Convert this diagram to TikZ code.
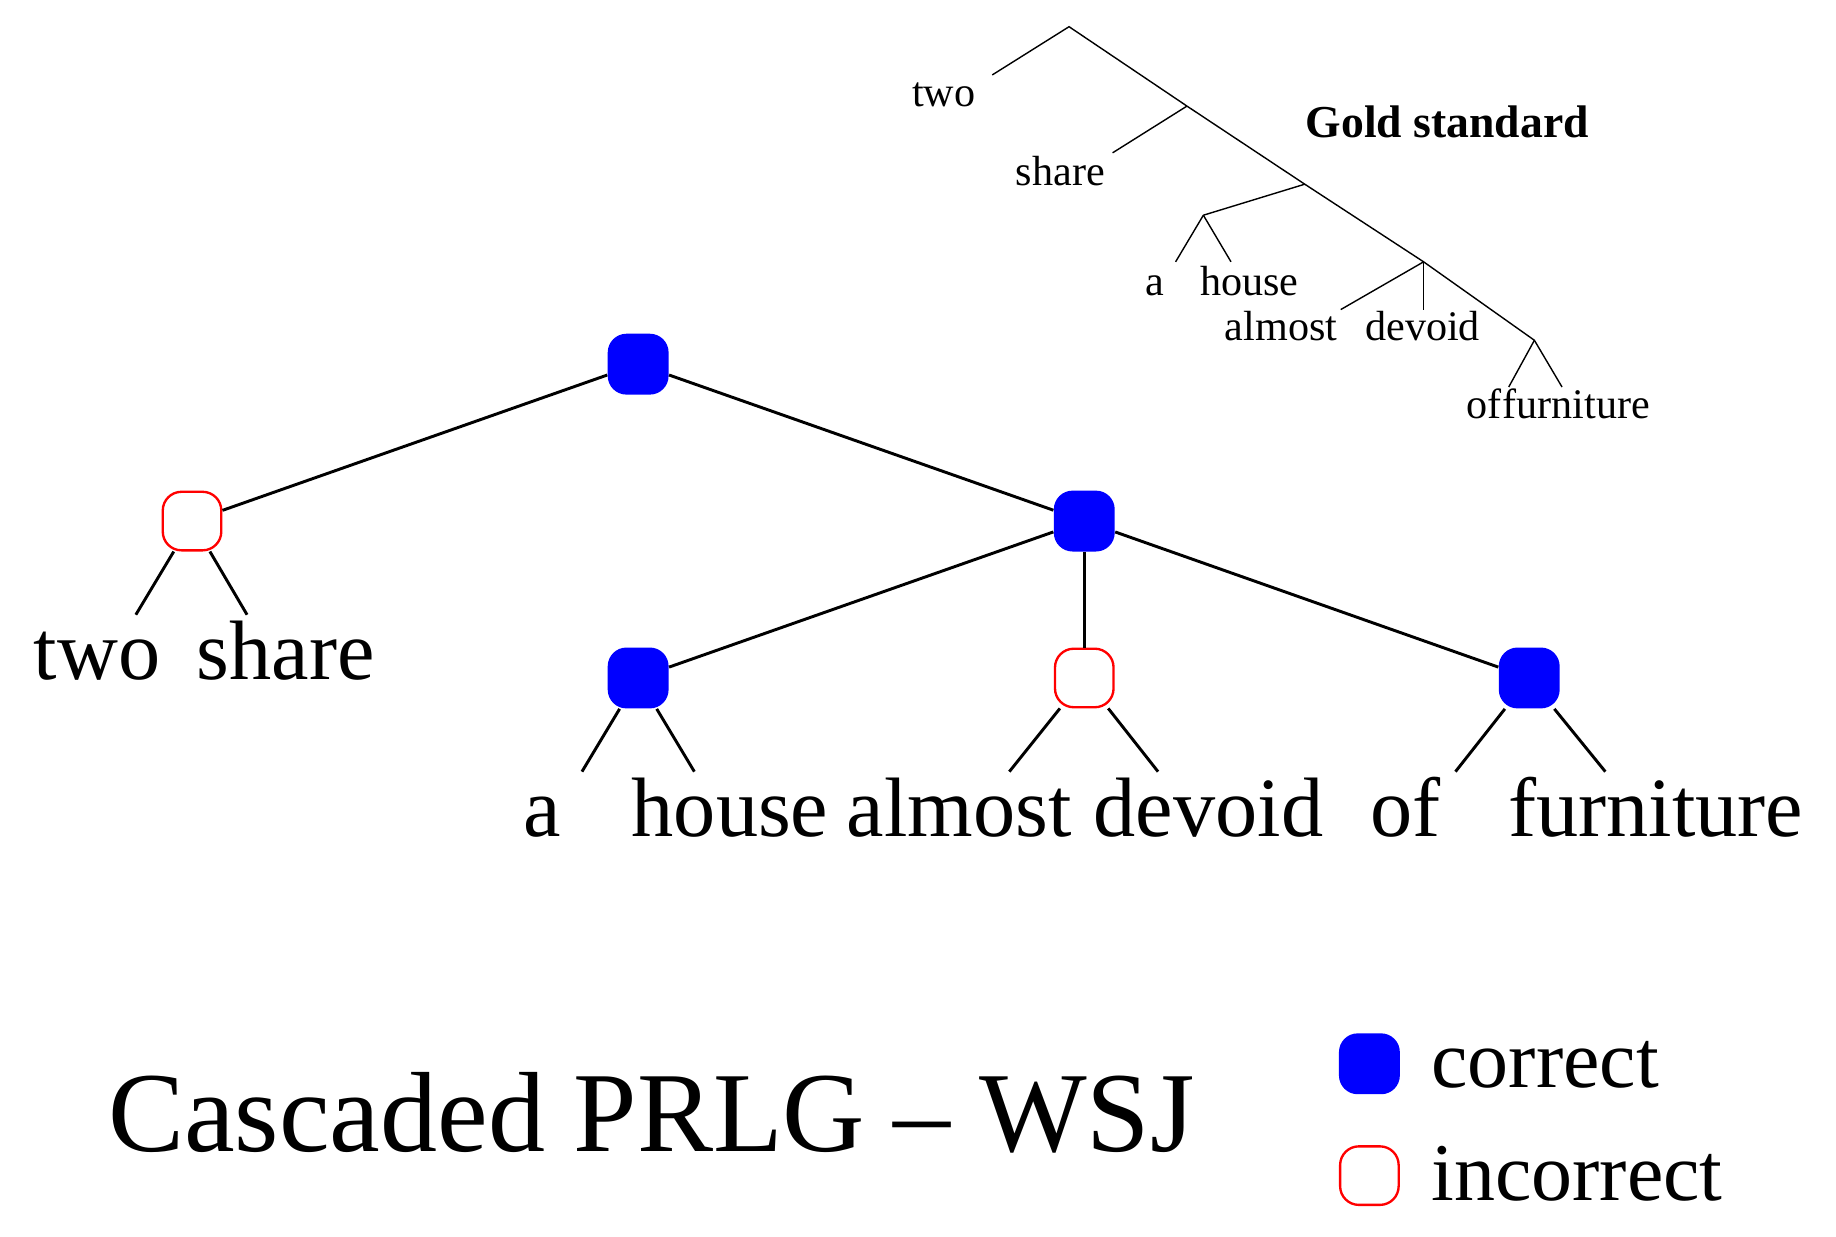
\documentclass[tikz,border=0pt]{standalone}
\usepackage{fontspec}
\setmainfont{Liberation Serif}
\begin{document}
\begin{tikzpicture}[x=0.5pt,y=-0.5pt,
  ok/.style={rectangle,rounded corners=8pt,minimum width=26pt,minimum height=26pt,inner sep=0pt,fill=blue},
  bad/.style={rectangle,rounded corners=8pt,minimum width=25pt,minimum height=25pt,inner sep=0pt,draw=red,line width=1pt,fill=white},
  edge/.style={line width=1.25pt},
  gedge/.style={line width=0.6pt},
  big/.style={anchor=base,inner sep=0pt,font=\fontsize{36}{40}\selectfont},
  small/.style={anchor=base,inner sep=0pt,font=\fontsize{18}{20}\selectfont},
  legtext/.style={anchor=base west,inner sep=0pt,font=\fontsize{35}{40}\selectfont},
]
\useasboundingbox (0,0) rectangle (1568,1055.6);

% main tree
\node[ok]  (r) at (545,311) {};
\node[bad] (a) at (164,445) {};
\node[ok]  (b) at (926,445) {};
\node[ok]  (c) at (545,579) {};
\node[bad] (d) at (926,579) {};
\node[ok]  (e) at (1306,579) {};
\draw[edge] (r) -- (a);
\draw[edge] (r) -- (b);
\draw[edge] (b) -- (c);
\draw[edge] (b) -- (d);
\draw[edge] (b) -- (e);

\coordinate (a1) at (116,525);
\coordinate (a2) at (211,525);
\coordinate (c1) at (497,659);
\coordinate (c2) at (593,659);
\coordinate (d1) at (862,659);
\coordinate (d2) at (989,659);
\coordinate (e1) at (1243,659);
\coordinate (e2) at (1371,659);
\draw[edge] (a) -- (a1);
\draw[edge] (a) -- (a2);
\draw[edge] (c) -- (c1);
\draw[edge] (c) -- (c2);
\draw[edge] (d) -- (d1);
\draw[edge] (d) -- (d2);
\draw[edge] (e) -- (e1);
\draw[edge] (e) -- (e2);

\node[big] (w1) at (83,580) {two};
\node[big] (w2) at (244,580) {share};
\node[big] (w3) at (463,714) {a};
\node[big] (w4) at (623.5,714) {house};
\node[big] (w5) at (819,714) {almost};
\node[big] (w6) at (1032,714) {devoid};
\node[big] (w7) at (1200,714) {of};
\node[big] (w8) at (1414,714) {furniture};

% gold standard tree
\coordinate (g0) at (913,22.8);
\coordinate (g1) at (1013.7,90.6);
\coordinate (g2) at (1114.3,157.3);
\coordinate (g3) at (1215.8,223.6);
\coordinate (g4) at (1310.4,290.6);
\coordinate (gh) at (1027.7,183.8);
\coordinate (t1) at (847.4,64);
\coordinate (t2) at (950.2,130.5);
\coordinate (t3) at (1004,223.6);
\coordinate (t4) at (1051.3,223.6);
\coordinate (t5) at (1145,264.4);
\coordinate (t6) at (1215.8,264.4);
\coordinate (t7) at (1288.5,330.5);
\coordinate (t8) at (1334,330.5);
\draw[gedge] (t1) -- (g0) -- (g1) -- (g2) -- (g3) -- (g4);
\draw[gedge] (g1) -- (t2);
\draw[gedge] (g2) -- (gh);
\draw[gedge] (gh) -- (t3);
\draw[gedge] (gh) -- (t4);
\draw[gedge] (g3) -- (t5);
\draw[gedge] (g3) -- (t6);
\draw[gedge] (g4) -- (t7);
\draw[gedge] (g4) -- (t8);

\node[small] (s1) at (806,90.6) {two};
\node[small] (s2) at (905.5,158) {share};
\node[small] (s3) at (986,252) {a};
\node[small] (s4) at (1067,252) {house};
\node[small] (s5) at (1094,291) {almost};
\node[small] (s6) at (1215,291) {devoid};
\node[small] (s7) at (1267.5,357.5) {of};
\node[small] (s8) at (1346,357.5) {furniture};
\node[anchor=base,inner sep=0pt,font=\fontsize{19.5}{22}\selectfont\bfseries] (gold) at (1236,117.4) {Gold standard};

% title and legend
\node[anchor=base west,inner sep=0pt,font=\fontsize{48.7}{56}\selectfont] (title) at (92,983.5) {Cascaded PRLG – WSJ};
\node[ok]  (k1) at (1169.5,908.5) {};
\node[bad] (k2) at (1169.5,1004) {};
\node[legtext] (l1) at (1222,929) {correct};
\node[legtext] (l2) at (1222,1025) {incorrect};
\end{tikzpicture}
\end{document}
